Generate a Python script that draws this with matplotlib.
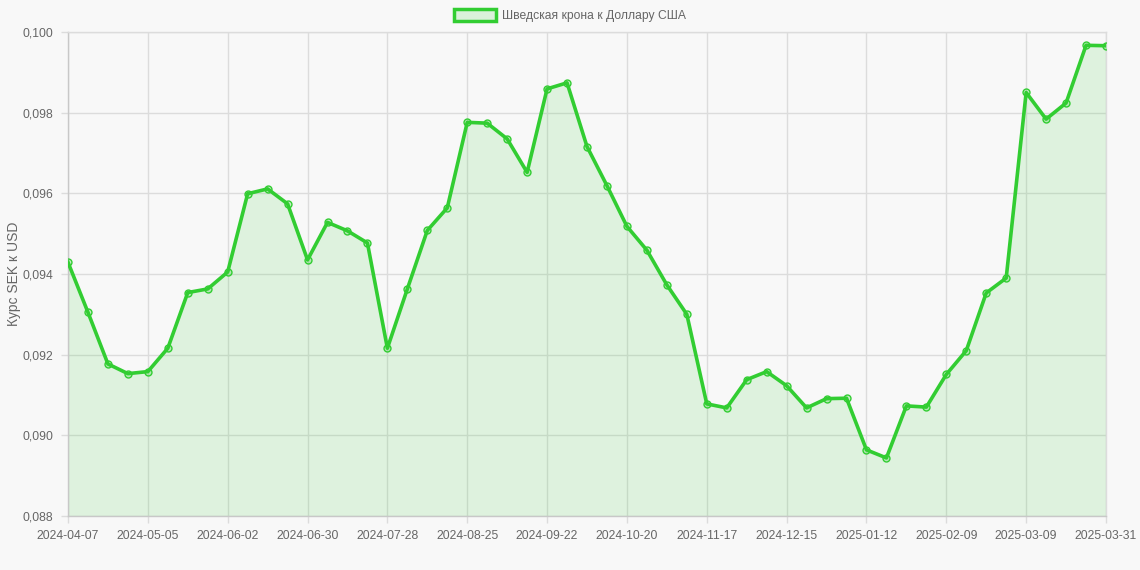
import matplotlib
matplotlib.use("Agg")
import matplotlib.pyplot as plt
from matplotlib.ticker import FuncFormatter, FixedLocator
from matplotlib.patches import Patch

dates = [
    "2024-04-07", "2024-04-14", "2024-04-21", "2024-04-28", "2024-05-05", "2024-05-12",
    "2024-05-19", "2024-05-26", "2024-06-02", "2024-06-09", "2024-06-16", "2024-06-23",
    "2024-06-30", "2024-07-07", "2024-07-14", "2024-07-21", "2024-07-28", "2024-08-04",
    "2024-08-11", "2024-08-18", "2024-08-25", "2024-09-01", "2024-09-08", "2024-09-15",
    "2024-09-22", "2024-09-29", "2024-10-06", "2024-10-13", "2024-10-20", "2024-10-27",
    "2024-11-03", "2024-11-10", "2024-11-17", "2024-11-24", "2024-12-01", "2024-12-08",
    "2024-12-15", "2024-12-22", "2024-12-29", "2025-01-05", "2025-01-12", "2025-01-19",
    "2025-01-26", "2025-02-02", "2025-02-09", "2025-02-16", "2025-02-23", "2025-03-02",
    "2025-03-09", "2025-03-16", "2025-03-23", "2025-03-30", "2025-03-31",
]

sek_usd = [
    0.09429, 0.09305, 0.09177, 0.09153, 0.09158, 0.09216, 0.09354, 0.09363,
    0.09405, 0.09599, 0.09611, 0.09574, 0.09435, 0.09528, 0.09507, 0.09477,
    0.09216, 0.09363, 0.09508, 0.09564, 0.09776, 0.09774, 0.09735, 0.09652,
    0.09859, 0.09874, 0.09716, 0.09619, 0.09518, 0.09459, 0.09373, 0.09300,
    0.09078, 0.09068, 0.09138, 0.09158, 0.09123, 0.09068, 0.09091, 0.09092,
    0.08964, 0.08944, 0.09073, 0.09070, 0.09151, 0.09210, 0.09353, 0.09390,
    0.09850, 0.09784, 0.09824, 0.09967, 0.09966,
]

series_label = "Шведская крона к Доллару США"
y_label = "Курс SEK к USD"
y_ticks = [0.088, 0.090, 0.092, 0.094, 0.096, 0.098, 0.100]

plt.rcParams['font.family'] = ['Liberation Sans', 'DejaVu Sans']

BG = "#f8f8f8"
GREEN = "#32cd32"
GRID = "#dcdcdc"
TXT = "#666666"

fig = plt.figure(figsize=(11.4, 5.7), dpi=100, facecolor=BG)
ax = fig.add_axes([68 / 1140, 1 - 516 / 570, (1106 - 68) / 1140, (516 - 32) / 570])
ax.set_facecolor(BG)

x = list(range(len(dates)))
ax.fill_between(x, sek_usd, 0.088, color=GREEN, alpha=0.13, linewidth=0, zorder=2)
ax.plot(x, sek_usd, color=GREEN, linewidth=2.6, zorder=3,
        marker="o", markersize=5, markerfacecolor=(0.196, 0.804, 0.196, 0.25),
        markeredgecolor=GREEN, markeredgewidth=1.0)

ax.set_xlim(0, len(dates) - 1)
ax.set_ylim(0.088, 0.100)

tick_idx = list(range(0, len(dates), 4))
if tick_idx[-1] != len(dates) - 1:
    tick_idx.append(len(dates) - 1)
ax.xaxis.set_major_locator(FixedLocator(tick_idx))
ax.set_xticklabels([dates[i] for i in tick_idx])
ax.yaxis.set_major_locator(FixedLocator(y_ticks))
ax.yaxis.set_major_formatter(FuncFormatter(lambda v, p: f"{v:.3f}".replace(".", ",")))

ax.grid(True, color=GRID, linewidth=1.0, zorder=1)
ax.set_axisbelow(True)
for s in ax.spines.values():
    s.set_color(GRID)
    s.set_linewidth(1.0)
ax.spines['left'].set_color("#c8c8c8")
ax.spines['bottom'].set_color("#c8c8c8")

ax.tick_params(axis="x", length=5, width=1, color=GRID, labelsize=8.7, labelcolor=TXT, pad=5)
ax.tick_params(axis="y", length=5, width=1, color=GRID, labelsize=8.7, labelcolor=TXT, pad=5.5)

ax.set_ylabel(y_label, fontsize=10, color=TXT, labelpad=8)
ax.yaxis.set_label_coords(-47 / 1038, 0.5)

handle = Patch(facecolor=(0.196, 0.804, 0.196, 0.15), edgecolor=GREEN, linewidth=2.5)
fig.legend([handle], [series_label], loc="upper center", bbox_to_anchor=(0.5, 1.0),
           frameon=False, fontsize=8.7, labelcolor=TXT, handlelength=3.4,
           handleheight=1.1, handletextpad=0.5, borderaxespad=0.35)

fig.savefig("out.png", dpi=100, facecolor=BG)
